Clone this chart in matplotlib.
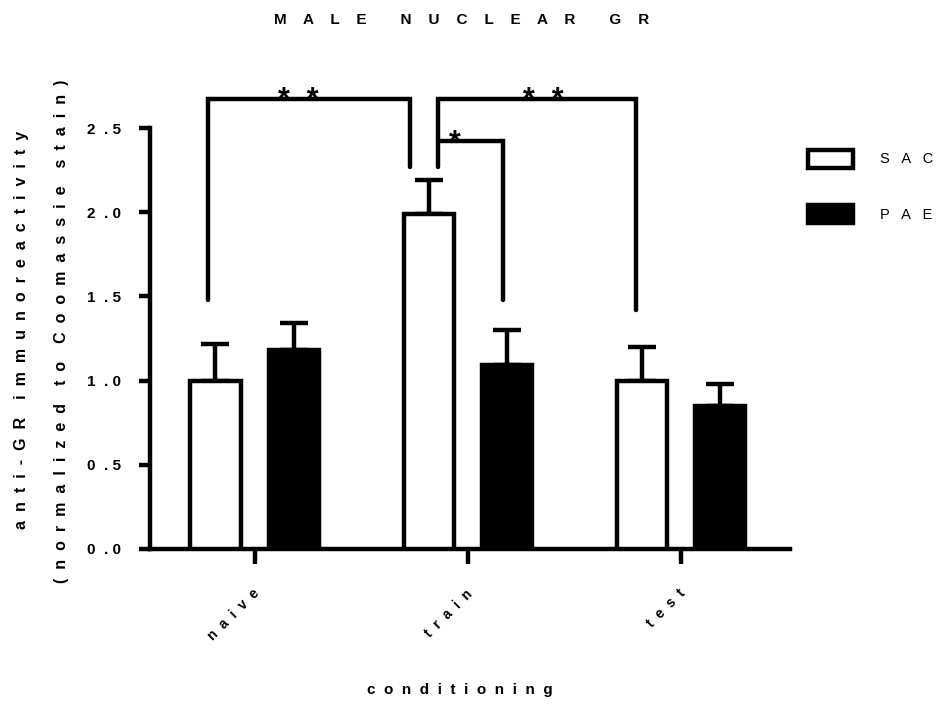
import matplotlib
matplotlib.use("Agg")
import matplotlib.pyplot as plt
import matplotlib.transforms as mtransforms
import numpy as np

plt.rcParams['font.family'] = ['Liberation Sans', 'DejaVu Sans']

categories = ["naive", "train", "test"]
series_names = ["SAC", "PAE"]
sac_mean = [1.00, 1.99, 1.00]
sac_err = [0.22, 0.20, 0.20]
pae_mean = [1.18, 1.09, 0.85]
pae_err = [0.16, 0.21, 0.13]
yticks = [0.0, 0.5, 1.0, 1.5, 2.0, 2.5]
ytick_labels = ["0  . 0", "0  . 5", "1  . 0", "1  . 5", "2  . 0", "2  . 5"]
title = "MALE NUCLEAR GR"
xlabel = "conditioning"
ylabel1 = "anti-GR immunoreactivity"
ylabel2 = "(normalized to Coomassie stain)"


def spaced(s, n=1, nw=3):
    words = s.split(" ")
    return (" " * nw).join((" " * n).join(w) for w in words)


fig = plt.figure(figsize=(9.4, 7.04), dpi=100)
ax = fig.add_axes([150/940, 1-549/704, 640/940, (549-128)/704])

x = np.arange(len(categories))
off = 0.183
w = 0.235
lw = 3.2
b1 = ax.bar(x - off, sac_mean, w, color="white", edgecolor="black", linewidth=lw, zorder=3)
b2 = ax.bar(x + off, pae_mean, w, color="black", edgecolor="black", linewidth=lw, zorder=3)
ax.errorbar(x - off, sac_mean, yerr=[np.zeros(3), sac_err], fmt="none", ecolor="black",
            elinewidth=lw, capsize=10, capthick=lw, zorder=2)
ax.errorbar(x + off, pae_mean, yerr=[np.zeros(3), pae_err], fmt="none", ecolor="black",
            elinewidth=lw, capsize=10, capthick=lw, zorder=2)

ax.set_xlim(-0.49, 2.51)
ax.set_ylim(0, 2.5)
ax.spines['top'].set_visible(False)
ax.spines['right'].set_visible(False)
ax.spines['left'].set_linewidth(lw)
ax.spines['bottom'].set_linewidth(lw)
ax.set_yticks(yticks)
ax.set_yticklabels(ytick_labels, fontsize=11, fontweight='bold')
ax.set_xticks(x)
ax.set_xticklabels([spaced(c, 2) for c in categories], rotation=45, ha='right',
                   va='top', rotation_mode='anchor', fontsize=10, fontweight='bold')
ax.tick_params(axis='y', length=8, width=lw, pad=13)
ax.tick_params(axis='x', length=11, width=lw, pad=16)
for lab in ax.get_xticklabels():
    lab.set_transform(lab.get_transform() +
                      mtransforms.ScaledTranslation(-2/72, 0, fig.dpi_scale_trans))

fig.text(460/940, 1-690/704, spaced(xlabel, 2), ha='center', va='center',
         fontsize=11, fontweight='bold')
fig.text(462/940, 1-20/704, spaced(title, 4, 8), ha='center', va='center',
         fontsize=11, fontweight='bold')

fig.text(22/940, 1-330/704, spaced(ylabel1, 2, 4),
         rotation=90, ha='center', va='center', fontsize=11.5, fontweight='bold')
fig.text(62/940, 1-331/704, spaced(ylabel2, 2, 4),
         rotation=90, ha='center', va='center', fontsize=11.5, fontweight='bold')


# significance brackets
def bracket(x1, x2, y, yl, yr, label, lx):
    ax.plot([x1, x1, x2, x2], [yl, y, y, yr], color='black', lw=lw, clip_on=False,
            solid_capstyle='round', solid_joinstyle='miter')
    ax.text(lx, y - 0.058, label, ha='center', va='baseline', fontsize=22,
            fontweight='bold', clip_on=False)


bracket(0 - off - 0.035, 1 - off - 0.089, 2.67, 1.48, 2.27, "*  *", 0.207)
bracket(1 - off + 0.042, 2 - off - 0.028, 2.67, 2.27, 1.42, "*  *", 1.352)
bracket(1 - off + 0.042, 1 + off - 0.019, 2.42, 2.42, 1.48, "*", 0.939)

leg = ax.legend([b1, b2], [spaced(s, 3) for s in series_names], loc='upper left',
                bbox_to_anchor=(1.0, 0.99), frameon=False, fontsize=10.5,
                handlelength=3.1, handleheight=1.5, labelspacing=2.6,
                handletextpad=1.9, borderaxespad=0.8)

fig.savefig("out.png", dpi=100)
